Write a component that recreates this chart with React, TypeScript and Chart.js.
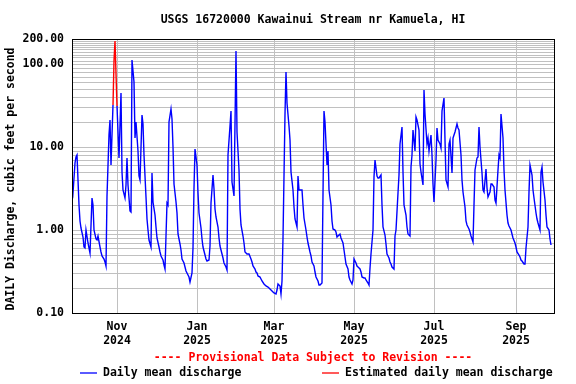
import { useEffect, useRef } from 'react';
import { Chart, registerables } from 'chart.js';

Chart.register(...registerables);

// Day 0 = 2024-09-28; one value per day (cubic feet per second)
const startDate = '2024-09-28';
const dailyMeanDischarge: (number | null)[] = [
  3.3, 2.8, 6.5, 7.5, 7.9, 2.0, 1.3, 1.05, 0.82, 0.62,
  0.6, 1.0, 0.7, 0.6, 0.53, 2.4, 2.0, 1.0, 0.78, 0.75,
  0.84, 0.62, 0.55, 0.49, 0.45, 0.41, 0.37, 2.6, 14, 21,
  6, 32, null, null, 31, 15, 7.3, 45, 5, 3.0,
  2.4, 3.5, 7.3, 3.5, 1.7, 1.65, 113, 60, 13, 20,
  9, 4.5, 4, 24, 19, 8, 2.5, 1.37, 1.0, 0.75,
  0.62, 4.8, 2.2, 1.5, 1.1, 0.79, 0.62, 0.55, 0.49, 0.44,
  0.38, 0.34, 2.1, 2.0, 20, 29, 22, 10, 3.6, 2.2,
  1.6, 0.9, 0.68, 0.58, 0.45, 0.4, 0.36, 0.32, 0.29, 0.27,
  0.235, 0.3, 0.6, 3.2, 9.5, 6, 2.8, 1.6, 1.05, 0.78,
  0.62, 0.5, 0.45, 0.42, 0.44, 0.65, 2.1, 4.6, 3.1, 1.8,
  1.44, 1.1, 0.8, 0.64, 0.52, 0.46, 0.4, 0.36, 0.33, 8,
  18, 27, 3.8, 2.6, 19, 142, 15, 5.3, 1.8, 1.15,
  0.85, 0.7, 0.55, 0.52, 0.52, 0.52, 0.45, 0.41, 0.37, 0.34,
  0.31, 0.3, 0.28, 0.27, 0.255, 0.24, 0.225, 0.215, 0.21, 0.205,
  0.2, 0.196, 0.186, 0.178, 0.172, 0.17, 0.19, 0.225, 0.21, 0.17,
  0.24, 0.8, 25, 81, 34, 18, 12, 5, 3.0, 1.9,
  1.37, 1.09, 4.5, 3.0, 3.0, 3.0, 2.0, 1.4, 1.0, 0.82,
  0.7, 0.55, 0.48, 0.41, 0.37, 0.31, 0.27, 0.24, 0.215, 0.22,
  0.23, 2.75, 27, 20, 6, 9, 3.0, 2.0, 1.3, 1.04,
  1.0, 0.95, 0.82, 0.88, 0.9, 0.8, 0.7, 0.57, 0.47, 0.39,
  0.34, 0.27, 0.25, 0.225, 0.25, 0.45, 0.4, 0.37, 0.36, 0.34,
  0.31, 0.27, 0.265, 0.265, 0.25, 0.23, 0.215, 0.35, 0.52, 1.0,
  4.4, 7, 4.5, 4.2, 4.2, 4.6, 2.0, 1.1, 0.86, 0.68,
  0.52, 0.46, 0.41, 0.39, 0.36, 0.34, 0.85, 1.0, 2.8, 4.6,
  11, 17.6, 5, 2.0, 1.5, 1.1, 0.9, 0.85, 5.8, 8,
  16, 9, 23, 21, 16, 6.3, 5.0, 3.5, 49, 25,
  11, 12.7, 9, 14, 8, 3.6, 2.2, 7, 17, 12,
  11, 9.6, 27, 39, 12, 4.0, 3.3, 11, 12, 4.8,
  13, 14, 15, 19, 17, 16, 8, 4.0, 2.9, 1.9,
  1.3, 1.14, 1.04, 0.95, 0.85, 0.72, 2.0, 5.3, 7.3, 7.6,
  17.6, 10, 4.8, 3.0, 2.9, 5.5, 3.2, 2.5, 2.9, 3.6,
  3.6, 3.3, 2.3, 2.1, 5.3, 8, 7.3, 25, 13, 5.3,
  3.0, 1.5, 1.2, 1.12, 1.0, 0.9, 0.8, 0.7, 0.62, 0.55,
  0.5, 0.47, 0.44, 0.42, 0.39, 0.39, 0.6, 1.1, 2.9, 6,
  4.6, 3.0, 2.4, 1.6, 1.37, 1.2, 1.0, 5, 5.8, 3.8,
  2.3, 1.5, 1.1, 1.0, 0.78, 0.66,
];

// Estimated values (with the neighbouring measured days so the line joins)
const estimatedDays = [31, 32, 33, 34];
const estimatedDischarge = [32, 110, 188, 31];

const xDayMax = 367;
const monthTickDays = [34, 95, 154, 215, 276, 338];
const monthTickLabels = [
  ['Nov', '2024'], ['Jan', '2025'], ['Mar', '2025'],
  ['May', '2025'], ['Jul', '2025'], ['Sep', '2025'],
];

const yGridValues = [
  0.1, 0.2, 0.3, 0.4, 0.5, 0.6, 0.7, 0.8, 0.9,
  1, 2, 3, 4, 5, 6, 7, 8, 9,
  10, 20, 30, 40, 50, 60, 70, 80, 90,
  100, 110, 120, 130, 140, 150, 160, 170, 180, 190, 200,
];
const yLabelValues = [0.1, 1, 10, 100, 200];
const yLabelTexts = ['0.10', '1.00', '10.00', '100.00', '200.00'];

const titleText = 'USGS 16720000 Kawainui Stream nr Kamuela, HI';
const yAxisTitle = 'DAILY Discharge, cubic feet per second';
const provisionalText = '---- Provisional Data Subject to Revision ----';
const legendLabels = ['Daily mean discharge', 'Estimated daily mean discharge'];

const FONT_FAMILY = "'DejaVu Sans Mono', monospace";
const FONT_SIZE = 11.5;
const FONT = `bold ${FONT_SIZE}px ${FONT_FAMILY}`;

const overlayPlugin = {
  id: 'usgsOverlay',
  afterDraw(chart: any) {
    const { ctx, chartArea } = chart;
    const { left, right, top, bottom } = chartArea;
    const cx = (left + right) / 2;
    ctx.save();
    // plot frame
    ctx.strokeStyle = '#000';
    ctx.lineWidth = 1;
    ctx.strokeRect(Math.round(left) + 0.5, Math.round(top) + 0.5,
      Math.round(right) - Math.round(left), Math.round(bottom) - Math.round(top));

    ctx.font = FONT;
    ctx.textBaseline = 'middle';
    ctx.fillStyle = '#000';
    ctx.textAlign = 'center';
    ctx.fillText(titleText, cx, 20);

    // y axis title
    ctx.save();
    ctx.translate(11, (top + bottom) / 2 + 3);
    ctx.rotate(-Math.PI / 2);
    ctx.fillText(yAxisTitle, 0, 0);
    ctx.restore();

    ctx.fillStyle = '#ff0000';
    ctx.fillText(provisionalText, cx, 358);

    // legend
    const ly = 373;
    ctx.textAlign = 'left';
    ctx.lineWidth = 1.3;
    ctx.strokeStyle = '#0000ff';
    ctx.beginPath();
    ctx.moveTo(80, ly);
    ctx.lineTo(97, ly);
    ctx.stroke();
    ctx.fillStyle = '#000';
    ctx.fillText(legendLabels[0], 103, ly);
    ctx.strokeStyle = '#ff0000';
    ctx.beginPath();
    ctx.moveTo(322, ly);
    ctx.lineTo(339, ly);
    ctx.stroke();
    ctx.fillText(legendLabels[1], 345, ly);
    ctx.restore();
  },
};

export default function App() {
  const canvasRef = useRef<HTMLCanvasElement | null>(null);

  useEffect(() => {
    if (!canvasRef.current) return;
    const bluePoints = dailyMeanDischarge.map((v, i) => ({ x: i, y: v }));
    const redPoints = estimatedDays.map((d, i) => ({ x: d, y: estimatedDischarge[i] }));
    const chart = new Chart(canvasRef.current, {
      type: 'line',
      data: {
        datasets: [
          {
            label: legendLabels[0],
            data: bluePoints as any,
            borderColor: '#0000ff',
            borderWidth: 1.4,
            pointRadius: 0,
            spanGaps: false,
            tension: 0,
          },
          {
            label: legendLabels[1],
            data: redPoints as any,
            borderColor: '#ff0000',
            borderWidth: 1.4,
            pointRadius: 0,
            tension: 0,
          },
        ],
      },
      options: {
        responsive: false,
        animation: false,
        layout: { padding: { left: 0, right: 22, top: 39, bottom: 0 } },
        plugins: {
          legend: { display: false },
          title: { display: false },
          tooltip: { enabled: false },
        },
        scales: {
          x: {
            type: 'linear',
            min: 0,
            max: xDayMax,
            alignToPixels: true,
            afterBuildTicks: (s: any) => {
              s.ticks = monthTickDays.map((v) => ({ value: v }));
            },
            afterFit: (s: any) => {
              s.height = 71;
            },
            grid: { color: '#c0c0c0', lineWidth: 1, drawTicks: false },
            border: { display: true, color: '#000' },
            ticks: {
              autoSkip: false,
              maxRotation: 0,
              padding: 7,
              color: '#000',
              font: { family: FONT_FAMILY, size: FONT_SIZE, weight: 'bold', lineHeight: 1.22 },
              callback: (_v: any, i: number) => monthTickLabels[i],
            },
          },
          y: {
            type: 'logarithmic',
            min: 0.1,
            max: 200,
            alignToPixels: true,
            afterBuildTicks: (s: any) => {
              s.ticks = yGridValues.map((v) => ({ value: v }));
            },
            afterFit: (s: any) => {
              s.width = 72;
            },
            grid: { color: '#c0c0c0', lineWidth: 1, drawTicks: false },
            border: { display: true, color: '#000' },
            ticks: {
              autoSkip: false,
              padding: 8,
              color: '#000',
              font: { family: FONT_FAMILY, size: FONT_SIZE, weight: 'bold' },
              callback: (v: any) => {
                const idx = yLabelValues.findIndex((t) => Math.abs(t - Number(v)) < 1e-9);
                return idx >= 0 ? yLabelTexts[idx] : '';
              },
            },
          },
        },
      } as any,
      plugins: [overlayPlugin],
    });
    return () => chart.destroy();
  }, []);

  return (
    <div style={{ position: 'absolute', left: 0, top: 0, width: 576, height: 384, background: '#fff' }}>
      <canvas ref={canvasRef} width={576} height={384} data-start={startDate} />
    </div>
  );
}
